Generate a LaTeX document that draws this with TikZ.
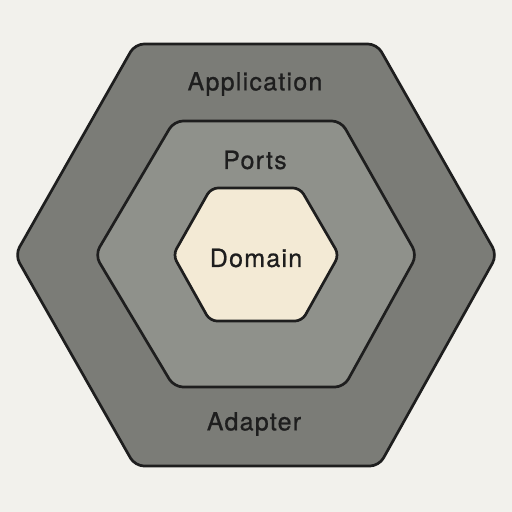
\documentclass[tikz,border=0pt]{standalone}
\usepackage{fontspec}
\setmainfont{TeX Gyre Heros}[LetterSpace=5,FakeBold=0.8]
\definecolor{bgc}{HTML}{F2F1EC}
\definecolor{outerc}{HTML}{7B7C77}
\definecolor{midc}{HTML}{8F918B}
\definecolor{innerc}{HTML}{F3EAD5}
\definecolor{linec}{HTML}{1E1E1E}
\definecolor{textc}{HTML}{1E1E1E}
\tikzset{
  hexa/.style={draw=linec, line width=2.7pt, rounded corners=9pt, line join=round},
  lbl/.style={text=textc, font=\fontsize{25}{29}\selectfont, inner sep=0pt}
}
\begin{document}
\begin{tikzpicture}[x=1pt,y=-1pt]
\fill[bgc] (0,0) rectangle (512,512);
\useasboundingbox (0,0) rectangle (512,512);
\draw[hexa, fill=outerc] (135,44) -- (377,44) -- (497,255) -- (379,466) -- (135,466) -- (15,255) -- cycle;
\draw[hexa, fill=midc] (174,121) -- (341,121) -- (417,255) -- (344,387) -- (174,387) -- (95,255) -- cycle;
\draw[hexa, fill=innerc, rounded corners=7pt] (211,188) -- (300,188) -- (339,255) -- (302,321) -- (210,321) -- (173,255) -- cycle;
\node[lbl] (app) at (255,84) {Application};
\node[lbl] (ports) at (255,160) {Ports};
\node[lbl] (dom) at (256,258) {Domain};
\node[lbl] (adp) at (254,424) {Adapter};
\end{tikzpicture}
\end{document}
